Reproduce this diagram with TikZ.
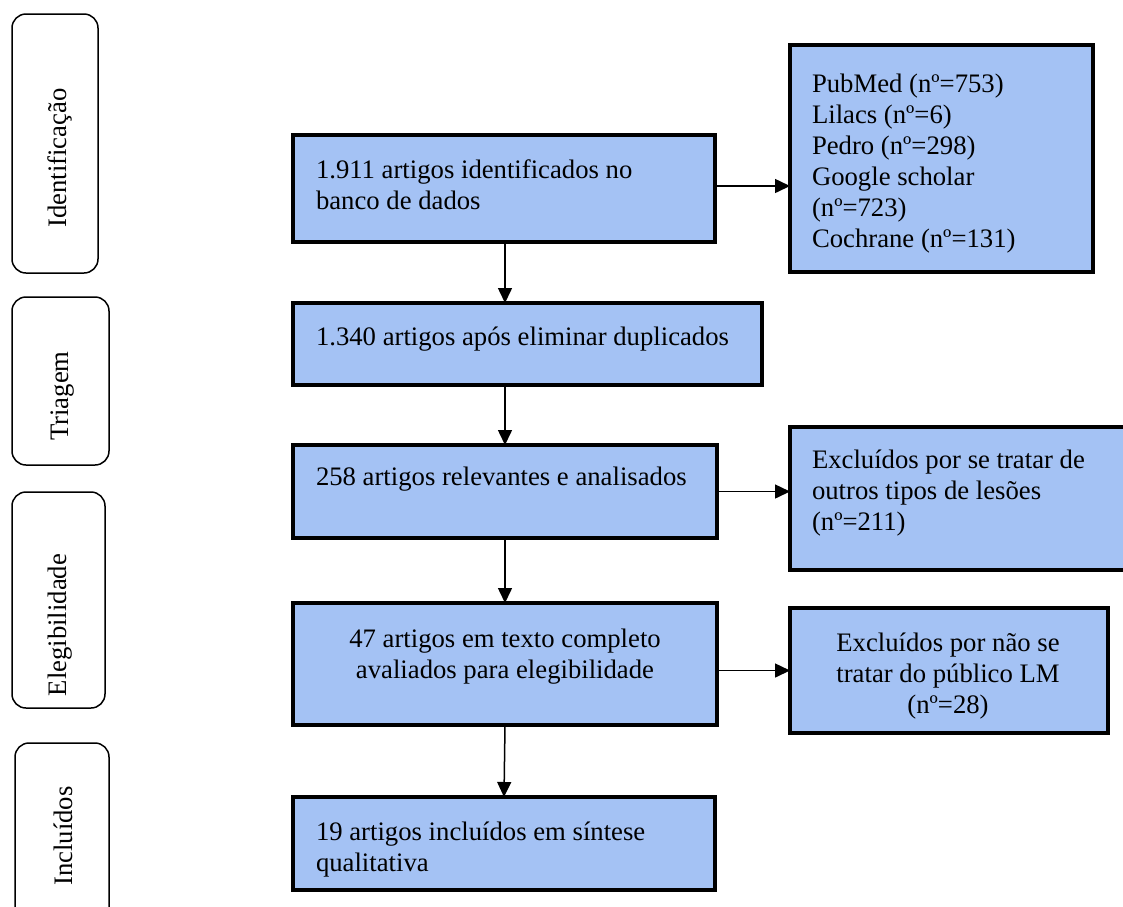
\documentclass[tikz,border=0pt]{standalone}
\usepackage{fontspec}
\setmainfont{Liberation Serif}
\usetikzlibrary{arrows.meta}
\definecolor{boxblue}{RGB}{164,194,244}
\tikzset{
  box/.style={draw,line width=4pt,fill=boxblue,inner sep=0,outer sep=0},
  stage/.style={draw,line width=1.5pt,rounded corners=14pt,inner sep=0,outer sep=0},
  boxtxt/.style={inner sep=0,outer sep=0,font=\fontsize{26.7}{31}\selectfont},
  stagetxt/.style={inner sep=0,rotate=90,font=\fontsize{26.7}{31}\selectfont},
  arr/.style={line width=1.5pt,-{Triangle[length=15pt,width=14pt]}}
}
\begin{document}
\begin{tikzpicture}[x=1pt,y=-1pt]
	\useasboundingbox (0,0) rectangle (1123,906);
	% stages
	\node[stage,minimum width=86,minimum height=259] (sident) at (55,143.5) {};
	\node[stage,minimum width=97,minimum height=168] (striag) at (60.5,381) {};
	\node[stage,minimum width=93,minimum height=216] (selig) at (58.5,600) {};
	\node[stage,minimum width=94,minimum height=200] (sincl) at (62,843) {};
	\node[stagetxt] (tident) at (60,158) {Identificação};
	\node[stagetxt] (ttriag) at (63,396) {Triagem};
	\node[stagetxt] (telig) at (60,625) {Elegibilidade};
	\node[stagetxt] (tincl) at (63,836) {Incluídos};
	% main column
	\node[box,minimum width=422,minimum height=107] (ident) at (504,188.5) {};
	\node[box,minimum width=469,minimum height=82] (dup) at (527.5,344) {};
	\node[box,minimum width=424,minimum height=93] (relev) at (505,491.5) {};
	\node[box,minimum width=424,minimum height=122] (elig) at (505,664) {};
	\node[box,minimum width=422,minimum height=93] (incl) at (504,843.5) {};
	% side boxes
	\node[box,minimum width=303,minimum height=227] (src) at (941.5,158.5) {};
	\node[box,minimum width=340,minimum height=143] (excl1) at (960,498.5) {};
	\node[box,minimum width=318,minimum height=125] (excl2) at (949,670.5) {};
	% texts
	\node[boxtxt,anchor=north west,align=left] (identtxt) at (316,160) {1.911 artigos identificados no\\banco de dados};
	\node[boxtxt,anchor=north west] (duptxt) at (316,327) {1.340 artigos após eliminar duplicados};
	\node[boxtxt,anchor=north west] (relevtxt) at (316,467) {258 artigos relevantes e analisados};
	\node[boxtxt,anchor=north,align=center] (eligtxt) at (505,629) {47 artigos em texto completo\\avaliados para elegibilidade};
	\node[boxtxt,anchor=north west,align=left] (incltxt) at (316,822) {19 artigos incluídos em síntese\\qualitativa};
	\node[boxtxt,anchor=north west,align=left] (srctxt) at (812,74) {PubMed (nº=753)\\Lilacs (nº=6)\\Pedro (nº=298)\\Google scholar\\(nº=723)\\Cochrane (nº=131)};
	\node[boxtxt,anchor=north west,align=left] (excl1txt) at (812,450) {Excluídos por se tratar de\\outros tipos de lesões\\(nº=211)};
	\node[boxtxt,anchor=north,align=center] (excl2txt) at (948,633) {Excluídos por não se\\tratar do público LM\\(nº=28)};
	% connectors
	\draw[arr] ([xshift=1pt]ident.south) -- ([xshift=1pt]ident.south |- dup.north);
	\draw[arr] (relev.north |- dup.south) -- (relev.north);
	\draw[arr] (relev.south) -- (elig.north);
	\draw[arr] (elig.south) -- (incl.north);
	\draw[arr] ([yshift=2.5pt]ident.east) -- ([yshift=2.5pt]ident.east -| src.west);
	\draw[arr] (relev.east) -- (relev.east -| excl1.west);
	\draw[arr] (excl2.west -| elig.east) -- (excl2.west);
\end{tikzpicture}
\end{document}
